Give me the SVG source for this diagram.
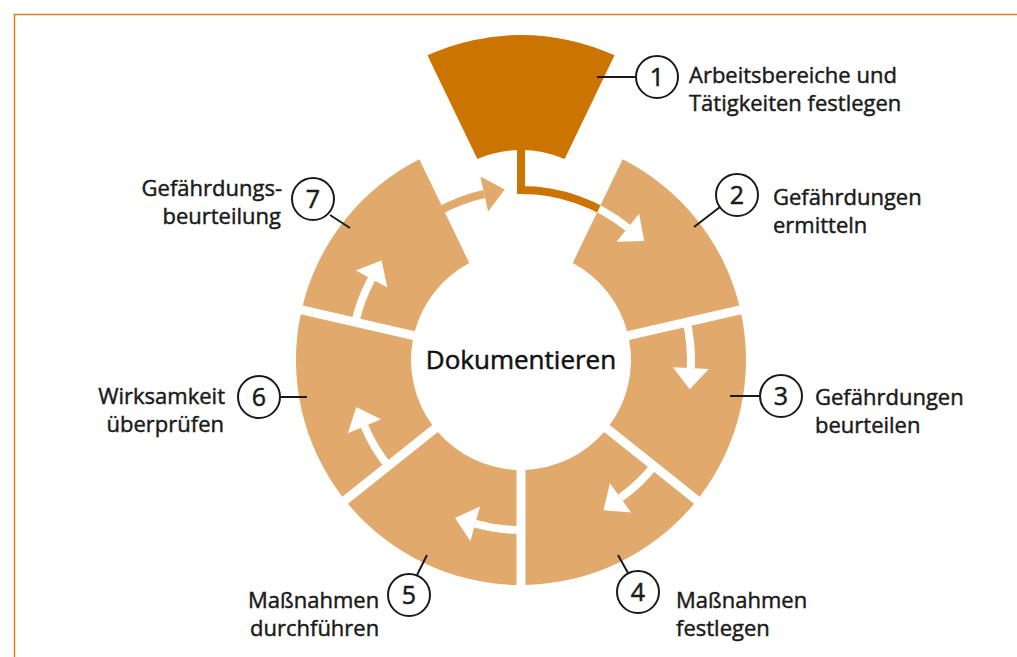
<svg xmlns="http://www.w3.org/2000/svg" width="1017" height="657" viewBox="0 0 1017 657">
<style>
.seg{fill:#E1A96C}
.seg1{fill:#CC7400}
.lbl{font-family:"Open Sans","Noto Sans",sans-serif;font-size:22px;font-weight:500;fill:#1a1a1a;stroke:#1a1a1a;stroke-width:0.45}
.end{text-anchor:end}
.num{font-family:"Open Sans","Noto Sans",sans-serif;font-size:25px;font-weight:500;fill:#1a1a1a;stroke:#1a1a1a;stroke-width:0.5;text-anchor:middle}
.circ{fill:#fff;stroke:#1a1a1a;stroke-width:2}
.lead{stroke:#1a1a1a;stroke-width:2;fill:none}
.title{font-family:"Open Sans","Noto Sans",sans-serif;font-size:26px;font-weight:500;fill:#111;stroke:#111;stroke-width:0.5;text-anchor:middle}
.white{fill:#fff;stroke:#fff}
</style>
<defs>
<path id="seg" d="M-93.55,-204.63 A225,225 0 0 1 93.55,-204.63 L43.63,-100.98 A110,110 0 0 0 -43.63,-100.98 Z"/>
<g id="arr"><path d="M-76.38,-151.87 A170,170 0 0 1 -29.81,-167.37" fill="none" stroke-width="8"/><polygon points="-32.97,-185.09 -9.14,-171.05 -26.65,-149.65" stroke="none"/></g>
<clipPath id="c2"><use href="#seg" transform="translate(521,360) rotate(51.4286)"/></clipPath>
</defs>
<rect width="1017" height="657" fill="#fff"/>
<path d="M14.5,657 V14.5 H1017" fill="none" stroke="#D27F1E" stroke-width="1.5"/>

<g id="node1">
<use href="#seg" class="seg1" transform="translate(521,260)"/>
<line class="lead" x1="597" y1="77" x2="636" y2="77"/>
<circle class="circ" cx="657" cy="77" r="21"/>
<text class="num" x="657" y="86">1</text>
<text class="lbl" x="689" y="83">Arbeitsbereiche und</text>
<text class="lbl" x="689" y="111">Tätigkeiten festlegen</text>
</g>
<g id="node2">
<use href="#seg" class="seg" transform="translate(521,360) rotate(51.4286)"/>
<line class="lead" x1="694" y1="227" x2="720" y2="207"/>
<circle class="circ" cx="737" cy="195" r="21"/>
<text class="num" x="737" y="204">2</text>
<text class="lbl" x="773" y="205">Gefährdungen</text>
<text class="lbl" x="773" y="233">ermitteln</text>
</g>
<g id="node3">
<use href="#seg" class="seg" transform="translate(521,360) rotate(102.857)"/>
<line class="lead" x1="730" y1="396" x2="760" y2="396"/>
<circle class="circ" cx="781" cy="396" r="21"/>
<text class="num" x="781" y="405">3</text>
<text class="lbl" x="815" y="405">Gefährdungen</text>
<text class="lbl" x="815" y="433">beurteilen</text>
</g>
<g id="node4">
<use href="#seg" class="seg" transform="translate(521,360) rotate(154.286)"/>
<line class="lead" x1="618" y1="555" x2="628" y2="573"/>
<circle class="circ" cx="638" cy="592" r="21"/>
<text class="num" x="638" y="601">4</text>
<text class="lbl" x="676" y="608">Maßnahmen</text>
<text class="lbl" x="676" y="636">festlegen</text>
</g>
<g id="node5">
<use href="#seg" class="seg" transform="translate(521,360) rotate(205.714)"/>
<line class="lead" x1="427" y1="555" x2="417" y2="575"/>
<circle class="circ" cx="409" cy="595" r="21"/>
<text class="num" x="409" y="604">5</text>
<text class="lbl" x="248" y="608">Maßnahmen</text>
<text class="lbl" x="250" y="636">durchführen</text>
</g>
<g id="node6">
<use href="#seg" class="seg" transform="translate(521,360) rotate(257.143)"/>
<line class="lead" x1="280" y1="397" x2="307" y2="397"/>
<circle class="circ" cx="259" cy="397" r="21"/>
<text class="num" x="259" y="406">6</text>
<text class="lbl end" x="225" y="404">Wirksamkeit</text>
<text class="lbl end" x="224" y="432">überprüfen</text>
</g>
<g id="node7">
<use href="#seg" class="seg" transform="translate(521,360) rotate(308.571)"/>
<line class="lead" x1="330" y1="215" x2="350" y2="228"/>
<circle class="circ" cx="313" cy="199" r="21"/>
<text class="num" x="313" y="208">7</text>
<text class="lbl end" x="282" y="196">Gefährdungs-</text>
<text class="lbl end" x="281" y="224">beurteilung</text>
</g>
<g id="center">
<text class="title" x="521" y="369">Dokumentieren</text>
</g>

<g id="connectors">
<path d="M521,149 V190 A170,170 0 0 1 627.82,227.75" fill="none" stroke="#CC7400" stroke-width="8"/>
<path d="M521,149 V190 A170,170 0 0 1 627.82,227.75" fill="none" stroke="#fff" stroke-width="8" clip-path="url(#c2)"/>
<polygon points="-32.97,-185.09 -9.14,-171.05 -26.65,-149.65" fill="#fff" transform="translate(521,360) rotate(49.03)"/>
<use href="#arr" class="white" transform="translate(521,360) rotate(102.857)"/>
<use href="#arr" class="white" transform="translate(521,360) rotate(154.286)"/>
<use href="#arr" class="white" transform="translate(521,360) rotate(205.714)"/>
<use href="#arr" class="white" transform="translate(521,360) rotate(257.143)"/>
<use href="#arr" class="white" transform="translate(521,360) rotate(308.571)"/>
<use href="#arr" fill="#E1A96C" stroke="#E1A96C" transform="translate(521,360) rotate(-2.4)"/>
</g>
</svg>
